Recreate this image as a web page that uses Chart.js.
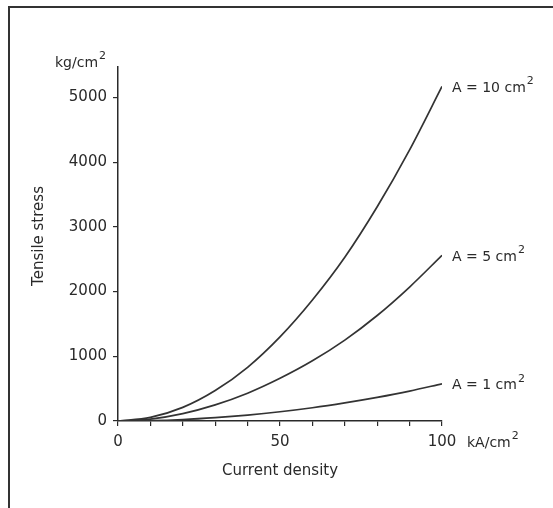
<!DOCTYPE html>
<html>
<head>
<meta charset="utf-8">
<style>
  body { margin: 0; background: #fff; }
  canvas { display: block; }
</style>
<script src="https://cdn.jsdelivr.net/npm/chart.js@4"></script>
</head>
<body>
<canvas id="chart" width="553" height="508"></canvas>
<script>
// current density, kA/cm2
var density = [0, 10, 20, 30, 40, 50, 60, 70, 80, 90, 100];
// tensile stress, kg/cm2
var area10 = [0, 55, 210, 470, 830, 1300, 1870, 2530, 3310, 4190, 5170];
var area5 = [0, 30, 115, 250, 430, 660, 930, 1250, 1630, 2070, 2560];
var area1 = [0, 5, 22, 52, 92, 143, 205, 280, 365, 462, 575];
var seriesNames = ['A = 10 cm', 'A = 5 cm', 'A = 1 cm'];
var yTicks = [0, 1000, 2000, 3000, 4000, 5000];
var xTickLabels = [0, 50, 100];

var font = '"DejaVu Sans", sans-serif';
var ink = '#2a2a2a';

function points(ys) {
    var out = [];
    for (var i = 0; i < density.length; i++) {
        out.push({x: density[i], y: ys[i]});
    }
    return out;
}

function drawSup(ctx, text, x, y, size) {
    ctx.font = size + 'px ' + font;
    ctx.fillText(text, x, y);
    var w = ctx.measureText(text).width;
    ctx.font = Math.round(size * 0.8) + 'px ' + font;
    ctx.fillText('2', x + w + 1, y - size * 0.5);
}

var textPlugin = {
    id: 'textPlugin',
    beforeDraw: function(chart) {
        var ctx = chart.ctx;
        ctx.save();
        ctx.fillStyle = '#fff';
        ctx.fillRect(0, 0, chart.width, chart.height);
        ctx.strokeStyle = '#333';
        ctx.lineWidth = 2;
        ctx.beginPath();
        ctx.moveTo(9, 508);
        ctx.lineTo(9, 7);
        ctx.lineTo(553, 7);
        ctx.stroke();
        ctx.restore();
    },
    afterDraw: function(chart) {
        var ctx = chart.ctx;
        var xs = chart.scales.x;
        var ys = chart.scales.y;
        ctx.save();
        ctx.fillStyle = ink;
        ctx.textBaseline = 'middle';
        ctx.textAlign = 'left';

        // curve labels at the right end of each line
        var ends = [area10, area5, area1];
        for (var i = 0; i < ends.length; i++) {
            var last = ends[i][ends[i].length - 1];
            drawSup(ctx, seriesNames[i], xs.getPixelForValue(100) + 10, ys.getPixelForValue(last) + 2, 14);
        }

        // units
        drawSup(ctx, 'kg/cm', 55, 63, 14);
        drawSup(ctx, 'kA/cm', 467, ys.bottom + 22, 14);

        // axis titles
        ctx.textAlign = 'center';
        ctx.font = '15px ' + font;
        ctx.fillText('Current density', xs.getPixelForValue(50), 471);
        ctx.translate(39, 236);
        ctx.rotate(-Math.PI / 2);
        ctx.fillText('Tensile stress', 0, 0);
        ctx.restore();
    }
};

function lineSet(ys) {
    return {
        data: points(ys),
        borderColor: '#333',
        borderWidth: 1.7,
        pointRadius: 0,
        fill: false,
        cubicInterpolationMode: 'monotone'
    };
}

new Chart(document.getElementById('chart'), {
    type: 'line',
    data: {
        datasets: [lineSet(area10), lineSet(area5), lineSet(area1)]
    },
    options: {
        responsive: false,
        animation: false,
        layout: {padding: {left: 0, top: 67, right: 111, bottom: 0}},
        plugins: {legend: {display: false}, tooltip: {enabled: false}},
        scales: {
            x: {
                type: 'linear',
                min: 0,
                max: 100,
                afterFit: function(s) { s.height = 87; },
                border: {display: true, color: ink, width: 1.5},
                grid: {drawOnChartArea: false, drawTicks: true, tickLength: 5, color: ink, lineWidth: 1.2},
                ticks: {
                    stepSize: 10,
                    autoSkip: false,
                    maxRotation: 0,
                    padding: 7,
                    color: ink,
                    font: {family: font, size: 15},
                    callback: function(v) { return xTickLabels.indexOf(v) >= 0 ? String(v) : ''; }
                }
            },
            y: {
                min: 0,
                max: 5470,
                afterFit: function(s) { s.width = 118; },
                afterBuildTicks: function(s) {
                    s.ticks = yTicks.map(function(v) { return {value: v}; });
                },
                border: {display: true, color: ink, width: 1.5},
                grid: {drawOnChartArea: false, drawTicks: true, tickLength: 5, color: ink, lineWidth: 1.2},
                ticks: {
                    padding: 6,
                    color: ink,
                    font: {family: font, size: 15},
                    callback: function(v) { return String(v); }
                }
            }
        }
    },
    plugins: [textPlugin]
});
</script>
</body>
</html>
